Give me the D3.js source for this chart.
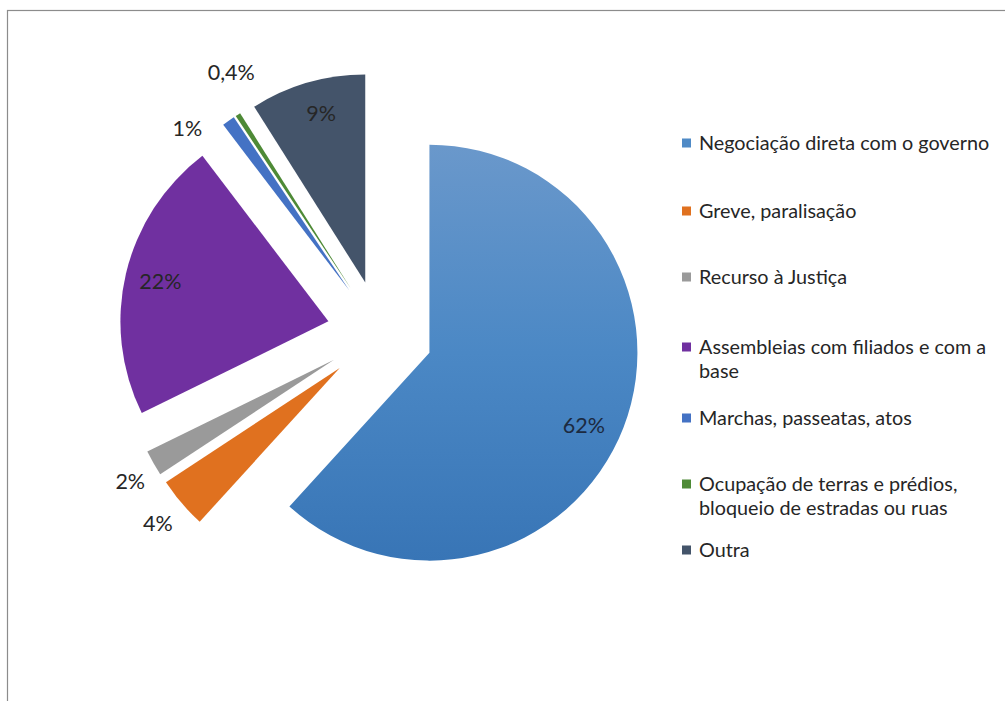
<!DOCTYPE html>
<html>
<head>
<meta charset="utf-8">
<script src="https://cdn.jsdelivr.net/npm/d3@7"></script>
<style>
  html, body { margin: 0; padding: 0; background: #fff; }
  svg { display: block; }
</style>
</head>
<body>
<svg id="chart" width="1005" height="701"></svg>
<script>
// Categories, shares (%) and the printed labels
const categories = [
  "Negociação direta com o governo",
  "Greve, paralisação",
  "Recurso à Justiça",
  "Assembleias com filiados e com a base",
  "Marchas, passeatas, atos",
  "Ocupação de terras e prédios, bloqueio de estradas ou ruas",
  "Outra"
];
const values = [62, 4, 2, 22, 1, 0.4, 9];
const valueLabels = ["62%", "4%", "2%", "22%", "1%", "0,4%", "9%"];
const colors = ["#4f8ac6", "#e0711f", "#9a9a9a", "#7030a0", "#4472c4", "#4e8a36", "#44546a"];
// legend text split into lines
const legendLines = [
  ["Negociação direta com o governo"],
  ["Greve, paralisação"],
  ["Recurso à Justiça"],
  ["Assembleias com filiados e com a", "base"],
  ["Marchas, passeatas, atos"],
  ["Ocupação de terras e prédios,", "bloqueio de estradas ou ruas"],
  ["Outra"]
];

const svg = d3.select("#chart");
const font = "Lato, 'Noto Sans', sans-serif";

// outer frame
svg.append("rect")
  .attr("x", 7.5).attr("y", 10.5)
  .attr("width", 1100).attr("height", 800)
  .attr("fill", "#fff").attr("stroke", "#8c8c8c").attr("stroke-width", 1.2);

const cx = 380, cy = 333.5, radius = 208, explode = 53;

// vertical shading of the main slice (in the slice's own coordinates)
const defs = svg.append("defs");
const grad = defs.append("linearGradient")
  .attr("id", "gBlue").attr("gradientUnits", "userSpaceOnUse")
  .attr("x1", 0).attr("y1", -radius).attr("x2", 0).attr("y2", radius);
grad.append("stop").attr("offset", 0).attr("stop-color", "#6a98cb");
grad.append("stop").attr("offset", 0.5).attr("stop-color", "#4b88c5");
grad.append("stop").attr("offset", 1).attr("stop-color", "#3875b6");

const pie = d3.pie().sort(null).value(d => d).startAngle(0).endAngle(2 * Math.PI);
const arcs = pie(values);
const arc = d3.arc().innerRadius(0).outerRadius(radius);

const mid = d => (d.startAngle + d.endAngle) / 2;
const dir = a => [Math.sin(a), -Math.cos(a)];

const g = svg.append("g").attr("transform", `translate(${cx},${cy})`);

g.selectAll("path.slice")
  .data(arcs)
  .join("path")
  .attr("class", "slice")
  .attr("d", arc)
  .attr("fill", (d, i) => i === 0 ? "url(#gBlue)" : colors[i])
  .attr("transform", d => {
    const [ux, uy] = dir(mid(d));
    return `translate(${ux * explode},${uy * explode})`;
  });

// data label placement: distance (fraction of radius) and angular nudge (degrees)
const labelPlace = [
  { k: 0.82, nudge: 4 },
  { k: 1.15, nudge: 0 },
  { k: 1.14, nudge: -1 },
  { k: 0.83, nudge: 0 },
  { k: 1.10, nudge: -9.5 },
  { k: 1.19, nudge: 4 },
  { k: 0.84, nudge: 1.5 }
];

g.selectAll("text.lbl")
  .data(arcs)
  .join("text")
  .attr("class", "lbl")
  .attr("transform", (d, i) => {
    const [ux, uy] = dir(mid(d));
    const p = labelPlace[i];
    const a = mid(d) + p.nudge * Math.PI / 180;
    const [lx, ly] = dir(a);
    const x = ux * explode + lx * radius * p.k;
    const y = uy * explode + ly * radius * p.k;
    return `translate(${x},${y})`;
  })
  .attr("text-anchor", "middle")
  .attr("dy", "0.35em")
  .attr("font-family", font)
  .attr("font-size", 21.5)
  .attr("fill", (d, i) => i === 0 ? "#1c2a40" : "#262626")
  .text((d, i) => valueLabels[i]);

// legend
const legendY = [143, 211, 277, 347, 418, 484, 550];
const legend = svg.append("g");
legendLines.forEach((lines, i) => {
  const row = legend.append("g").attr("transform", `translate(682,${legendY[i]})`);
  row.append("rect").attr("x", 0).attr("y", -4.5).attr("width", 9).attr("height", 9)
    .attr("fill", colors[i]);
  lines.forEach((t, j) => {
    row.append("text")
      .attr("x", 17).attr("y", j * 24).attr("dy", "0.35em")
      .attr("font-family", font).attr("font-size", 19.8).attr("fill", "#262626")
      .text(t);
  });
});
</script>
</body>
</html>
